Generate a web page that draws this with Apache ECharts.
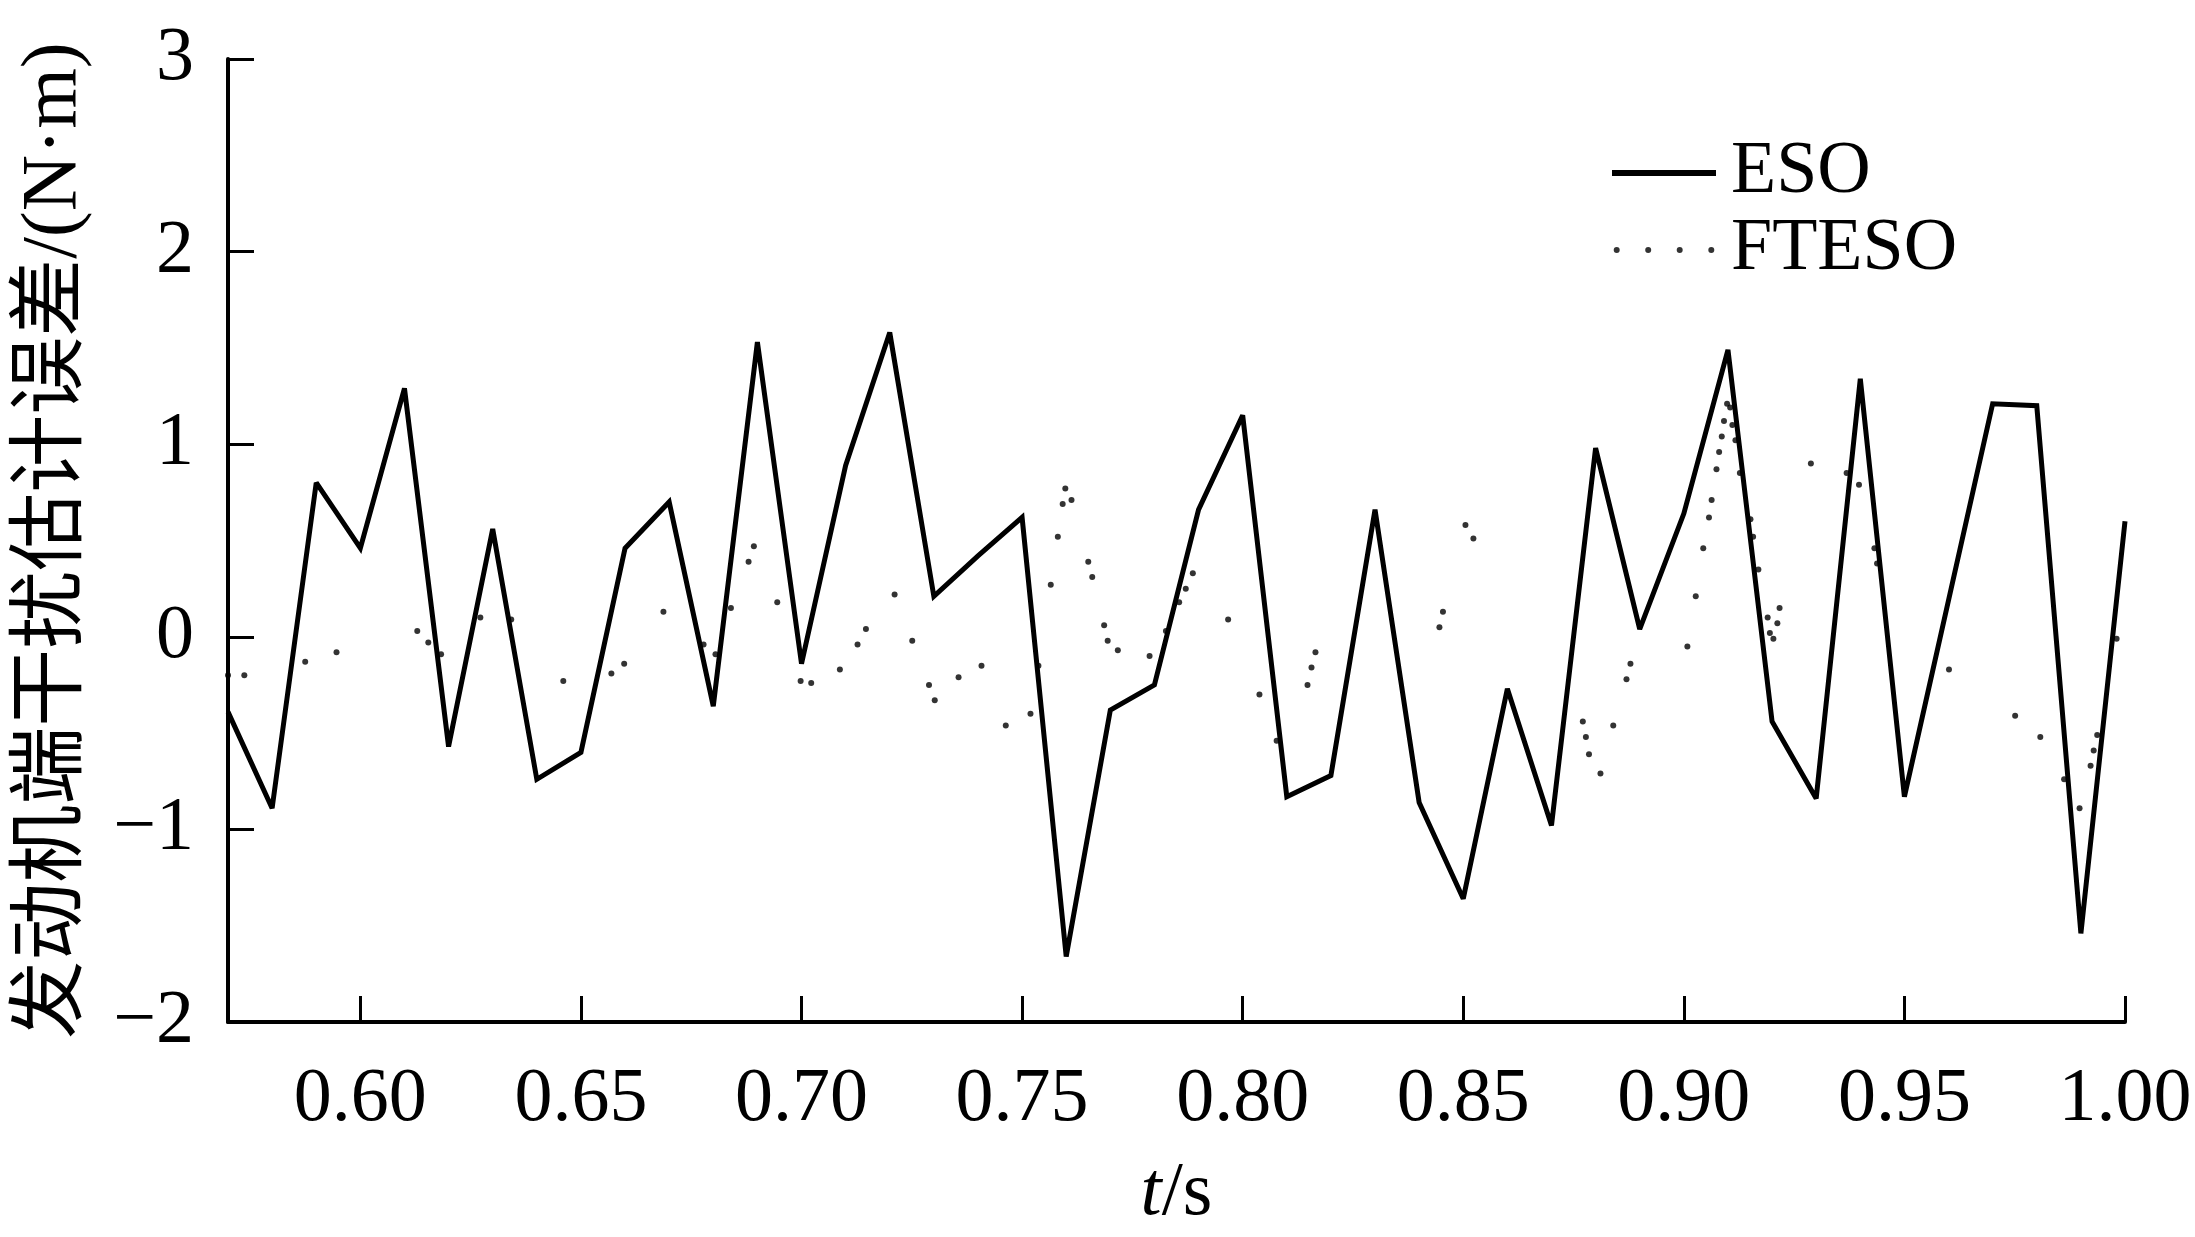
<!DOCTYPE html>
<html>
<head>
<meta charset="utf-8">
<script src="https://cdn.jsdelivr.net/npm/echarts@6/dist/echarts.min.js"></script>
<style>
html,body{margin:0;padding:0;background:#fff;}
#chart{width:2195px;height:1237px;}
</style>
</head>
<body>
<div id="chart"></div>
<script>
// ---- data ----
const esoTime = [0.57,0.58,0.59,0.60,0.61,0.62,0.63,0.64,0.65,0.66,0.67,0.68,0.69,0.70,0.71,0.72,0.73,0.74,0.75,0.76,0.77,0.78,0.79,0.80,0.81,0.82,0.83,0.84,0.85,0.86,0.87,0.88,0.89,0.90,0.91,0.92,0.93,0.94,0.95,0.96,0.97,0.98,0.99,1.00];
const esoValue = [-0.39,-0.89,0.80,0.46,1.29,-0.57,0.56,-0.74,-0.60,0.46,0.70,-0.36,1.53,-0.14,0.89,1.58,0.21,0.42,0.62,-1.66,-0.38,-0.25,0.66,1.15,-0.83,-0.72,0.66,-0.86,-1.36,-0.27,-0.98,0.98,0.04,0.64,1.49,-0.44,-0.84,1.34,-0.83,0.19,1.21,1.20,-1.54,0.60];

const ftesoTime = [0.5700,0.5737,0.5875,0.5946,0.6129,0.6154,0.6183,0.6272,0.6342,0.6460,0.6569,0.6598,0.6687,0.6778,0.6805,0.6840,0.6880,0.6892,0.6945,0.6998,0.7022,0.7087,0.7127,0.7146,0.7211,0.7251,0.7289,0.7302,0.7356,0.7408,0.7463,0.7519,0.7537,0.7565,0.7581,0.7592,0.7598,0.7612,0.7650,0.7659,0.7686,0.7694,0.7717,0.7789,0.7826,0.7856,0.7871,0.7887,0.7967,0.8038,0.8077,0.8147,0.8156,0.8165,0.8446,0.8454,0.8505,0.8523,0.8771,0.8778,0.8785,0.8811,0.8840,0.8870,0.8879,0.9008,0.9027,0.9044,0.9057,0.9063,0.9074,0.9080,0.9086,0.9091,0.9098,0.9105,0.9110,0.9117,0.9127,0.9151,0.9157,0.9169,0.9190,0.9195,0.9203,0.9212,0.9217,0.9288,0.9369,0.9397,0.9432,0.9438,0.9601,0.9751,0.9808,0.9862,0.9897,0.9922,0.9929,0.9937,0.9981];
const ftesoValue = [-0.20,-0.20,-0.13,-0.08,0.03,-0.03,-0.09,0.10,0.09,-0.23,-0.19,-0.14,0.13,-0.04,-0.09,0.15,0.39,0.47,0.18,-0.23,-0.24,-0.17,-0.04,0.04,0.22,-0.02,-0.25,-0.33,-0.21,-0.15,-0.46,-0.40,-0.15,0.27,0.52,0.69,0.77,0.71,0.39,0.31,0.06,-0.02,-0.07,-0.10,0.03,0.18,0.25,0.33,0.09,-0.30,-0.54,-0.25,-0.16,-0.08,0.05,0.13,0.58,0.51,-0.44,-0.52,-0.61,-0.71,-0.46,-0.22,-0.14,-0.05,0.21,0.46,0.62,0.71,0.87,0.96,1.04,1.12,1.21,1.19,1.10,1.02,0.85,0.61,0.52,0.35,0.10,0.02,-0.01,0.07,0.15,0.90,0.85,0.79,0.46,0.38,-0.17,-0.41,-0.52,-0.74,-0.89,-0.67,-0.59,-0.51,-0.01];

const xTickValues = [0.60,0.65,0.70,0.75,0.80,0.85,0.90,0.95,1.00];
const seriesNames = ['ESO','FTESO'];
const yAxisTitle = '发动机端干扰估计误差/(N·m)';

// ---- chart ----
const serif = '"Liberation Serif","Times New Roman","Noto Sans CJK SC",serif';
const chart = echarts.init(document.getElementById('chart'));
const esoData = esoTime.map((t,i)=>[t, esoValue[i]]);
const ftesoData = ftesoTime.map((t,i)=>[t, ftesoValue[i]]);

chart.setOption({
  animation: false,
  backgroundColor: '#fff',
  grid: {left: 228, right: 70, top: 59, bottom: 215, containLabel: false},
  legend: {
    orient: 'vertical',
    left: 1607,
    top: 131,
    itemWidth: 104,
    itemHeight: 6,
    itemGap: 3,
    textStyle: {fontFamily: serif, fontSize: 74, color: '#000', lineHeight: 74, padding: [0,0,0,10]},
    data: [
      {name: seriesNames[0], icon: 'path://M0,0H104V6H0Z'},
      {name: seriesNames[1], icon: 'path://M1.7,3a3,3 0 1,0 6,0a3,3 0 1,0 -6,0Z M33.2,3a3,3 0 1,0 6,0a3,3 0 1,0 -6,0Z M64.7,3a3,3 0 1,0 6,0a3,3 0 1,0 -6,0Z M96.3,3a3,3 0 1,0 6,0a3,3 0 1,0 -6,0Z'}
    ]
  },
  xAxis: {
    type: 'value',
    min: 0.57,
    max: 1.00,
    name: '{i|t}/s',
    nameLocation: 'middle',
    nameGap: 134,
    nameTextStyle: {fontFamily: serif, fontSize: 76, color: '#000',
      rich: {i: {fontFamily: serif, fontStyle: 'italic', fontSize: 76, color: '#000'}}},
    axisLine: {show: true, onZero: false, lineStyle: {color: '#000', width: 4}},
    axisTick: {show: true, inside: true, length: 26, lineStyle: {color: '#000', width: 3}, customValues: xTickValues},
    axisLabel: {show: true, margin: 40, fontFamily: serif, fontSize: 76, color: '#000',
      customValues: xTickValues, formatter: v => v.toFixed(2)},
    splitLine: {show: false}
  },
  yAxis: {
    type: 'value',
    min: -2,
    max: 3,
    interval: 1,
    name: yAxisTitle,
    nameLocation: 'middle',
    nameRotate: 90,
    nameGap: 134,
    nameTextStyle: {fontFamily: serif, fontSize: 78, color: '#000'},
    axisLine: {show: true, onZero: false, lineStyle: {color: '#000', width: 4}},
    axisTick: {show: true, inside: true, length: 26, lineStyle: {color: '#000', width: 3}},
    axisLabel: {margin: 34, fontFamily: serif, fontSize: 76, color: '#000',
      formatter: v => v < 0 ? '\u2212' + Math.abs(v) : String(v)},
    splitLine: {show: false}
  },
  series: [
    {
      name: seriesNames[0],
      type: 'line',
      data: esoData,
      showSymbol: false,
      symbol: 'none',
      color: '#000',
      lineStyle: {color: '#000', width: 5, join: 'miter', miterLimit: 2.5},
      z: 3
    },
    {
      name: seriesNames[1],
      type: 'scatter',
      data: ftesoData,
      symbol: 'circle',
      symbolSize: 6,
      color: '#000',
      itemStyle: {color: '#000'},
      z: 2
    }
  ]
});
</script>
</body>
</html>
